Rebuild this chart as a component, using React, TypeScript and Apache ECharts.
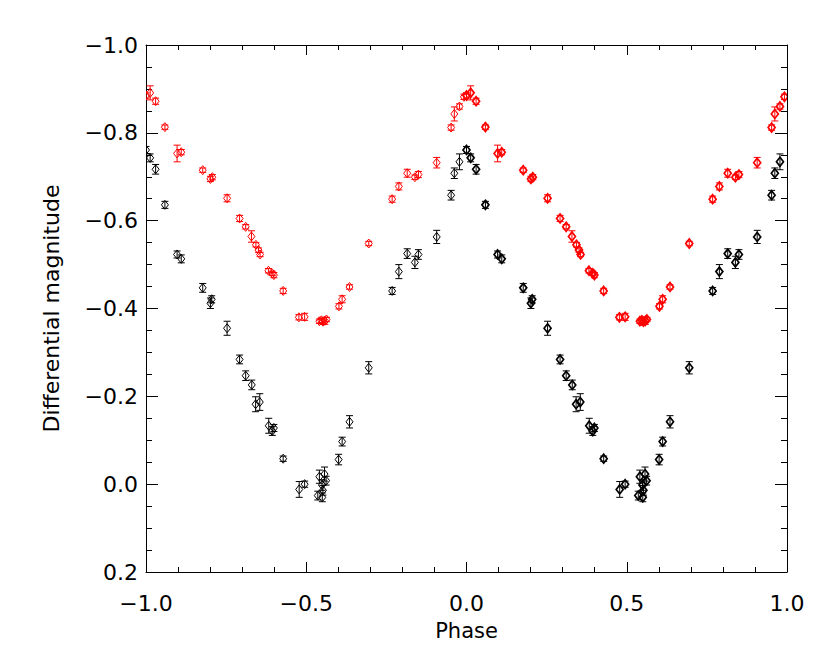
import React, { useEffect, useRef } from "react";
import * as echarts from "echarts";

// One folded cycle of the light curve (phase 0..1); it is plotted at phase and phase - 1
const redPhase = [0.000, 0.013, 0.030, 0.059, 0.097, 0.110, 0.177, 0.201, 0.207, 0.253, 0.292, 0.311, 0.329, 0.343, 0.351, 0.356, 0.382, 0.394, 0.399, 0.428, 0.477, 0.495, 0.541, 0.547, 0.552, 0.558, 0.563, 0.602, 0.612, 0.635, 0.695, 0.768, 0.789, 0.815, 0.839, 0.850, 0.907, 0.952, 0.962, 0.978, 0.992];
const redMag = [-0.885, -0.891, -0.872, -0.813, -0.753, -0.756, -0.715, -0.695, -0.699, -0.651, -0.605, -0.586, -0.564, -0.545, -0.533, -0.523, -0.486, -0.480, -0.476, -0.440, -0.380, -0.381, -0.371, -0.373, -0.370, -0.372, -0.375, -0.405, -0.421, -0.449, -0.548, -0.649, -0.678, -0.708, -0.699, -0.705, -0.732, -0.812, -0.843, -0.860, -0.882];
const redErr = [0.006, 0.016, 0.007, 0.005, 0.019, 0.006, 0.005, 0.006, 0.006, 0.008, 0.007, 0.005, 0.013, 0.005, 0.005, 0.005, 0.005, 0.005, 0.006, 0.006, 0.006, 0.008, 0.005, 0.005, 0.006, 0.008, 0.005, 0.006, 0.008, 0.005, 0.005, 0.007, 0.008, 0.009, 0.005, 0.007, 0.012, 0.006, 0.016, 0.006, 0.006];

const blackPhase = [0.000, 0.013, 0.030, 0.059, 0.097, 0.110, 0.177, 0.201, 0.205, 0.253, 0.292, 0.311, 0.330, 0.342, 0.355, 0.383, 0.394, 0.399, 0.428, 0.478, 0.495, 0.536, 0.541, 0.549, 0.552, 0.550, 0.557, 0.562, 0.601, 0.612, 0.635, 0.695, 0.768, 0.789, 0.815, 0.839, 0.850, 0.907, 0.952, 0.962, 0.978];
const blackMag = [-0.761, -0.743, -0.717, -0.636, -0.523, -0.513, -0.447, -0.412, -0.421, -0.355, -0.284, -0.247, -0.226, -0.182, -0.187, -0.133, -0.121, -0.128, -0.058, 0.012, 0.000, 0.026, -0.017, 0.002, 0.014, 0.030, -0.023, -0.008, -0.056, -0.097, -0.142, -0.265, -0.440, -0.484, -0.525, -0.505, -0.523, -0.563, -0.658, -0.708, -0.734];
const blackErr = [0.008, 0.009, 0.011, 0.008, 0.008, 0.009, 0.010, 0.012, 0.008, 0.016, 0.010, 0.011, 0.011, 0.017, 0.019, 0.017, 0.010, 0.008, 0.006, 0.018, 0.007, 0.010, 0.015, 0.012, 0.011, 0.010, 0.016, 0.010, 0.012, 0.010, 0.014, 0.014, 0.008, 0.016, 0.011, 0.014, 0.011, 0.015, 0.011, 0.012, 0.018];

const xTicks = [-1.0, -0.5, 0.0, 0.5, 1.0];
const yTicks = [-1.0, -0.8, -0.6, -0.4, -0.2, 0.0, 0.2];

const FONT = "DejaVu Sans";

function fmt(v: number): string {
  const r = Math.abs(v) < 1e-9 ? 0 : v;
  const s = r.toFixed(1);
  return s.startsWith("-") ? "\u2212" + s.slice(1) : s;
}

function buildData(phase: number[], mag: number[], err: number[], shift: number) {
  return phase.map((p, i) => [p + shift, mag[i], err[i]]);
}

function makeRender(color: string, lw: number) {
  return (params: any, api: any) => {
    const x = api.value(0);
    const y = api.value(1);
    const e = api.value(2);
    const c = api.coord([x, y]);
    const top = api.coord([x, y - e]);
    const bot = api.coord([x, y + e]);
    const cap = 3.5;
    const hw = 3.5;
    const hh = 4.5;
    const ls = { stroke: color, lineWidth: 1 };
    return {
      type: "group",
      children: [
        { type: "line", shape: { x1: c[0], y1: top[1], x2: c[0], y2: bot[1] }, style: ls },
        { type: "line", shape: { x1: c[0] - cap, y1: top[1], x2: c[0] + cap, y2: top[1] }, style: ls },
        { type: "line", shape: { x1: c[0] - cap, y1: bot[1], x2: c[0] + cap, y2: bot[1] }, style: ls },
        {
          type: "polygon",
          shape: { points: [[c[0], c[1] - hh], [c[0] + hw, c[1]], [c[0], c[1] + hh], [c[0] - hw, c[1]]] },
          style: { stroke: color, fill: "none", lineWidth: lw },
        },
      ],
    };
  };
}

export default function App() {
  const ref = useRef<HTMLDivElement>(null);
  useEffect(() => {
    if (!ref.current) return;
    const chart = echarts.init(ref.current, undefined, { renderer: "svg" });
    const axisLine = { show: true, onZero: false, lineStyle: { color: "#000", width: 1 } };
    const xCommon = {
      type: "value",
      min: xTicks[0],
      max: xTicks[xTicks.length - 1],
      interval: 0.5,
      splitLine: { show: false },
      axisLine,
      axisTick: { show: true, inside: true, length: 10, lineStyle: { color: "#000" } },
      minorTick: { show: true, splitNumber: 5, length: 5, lineStyle: { color: "#000" } },
    };
    const yCommon = {
      type: "value",
      inverse: true,
      min: yTicks[0],
      max: yTicks[yTicks.length - 1],
      interval: 0.2,
      splitLine: { show: false },
      axisLine,
      axisTick: { show: true, inside: true, length: 12, lineStyle: { color: "#000" } },
      minorTick: { show: true, splitNumber: 4, length: 6, lineStyle: { color: "#000" } },
    };
    const series: any[] = [];
    [
      { p: blackPhase, m: blackMag, e: blackErr, color: "#000000" },
      { p: redPhase, m: redMag, e: redErr, color: "#ff0000" },
    ].forEach((s) => {
      series.push({
        type: "custom",
        xAxisIndex: 0,
        yAxisIndex: 0,
        clip: true,
        renderItem: makeRender(s.color, 1),
        data: buildData(s.p, s.m, s.e, -1),
      });
      series.push({
        type: "custom",
        xAxisIndex: 0,
        yAxisIndex: 0,
        clip: true,
        renderItem: makeRender(s.color, 1.7),
        data: buildData(s.p, s.m, s.e, 0),
      });
    });
    chart.setOption({
      animation: false,
      backgroundColor: "#ffffff",
      grid: { left: 138, right: 35, top: 37, bottom: 84, containLabel: false },
      xAxis: [
        {
          ...xCommon,
          position: "bottom",
          name: "Phase",
          nameLocation: "middle",
          nameGap: 48,
          nameTextStyle: { fontFamily: FONT, fontSize: 21, color: "#000" },
          axisLabel: { show: true, margin: 20, fontFamily: FONT, fontSize: 22, color: "#000", formatter: (v: number) => fmt(v) },
        },
        { ...xCommon, position: "top", axisLabel: { show: false } },
      ],
      yAxis: [
        {
          ...yCommon,
          position: "left",
          name: "Differential magnitude",
          nameLocation: "middle",
          nameGap: 84,
          nameRotate: 90,
          nameTextStyle: { fontFamily: FONT, fontSize: 22, color: "#000" },
          axisLabel: { show: true, margin: 8, fontFamily: FONT, fontSize: 22, color: "#000", formatter: (v: number) => fmt(v) },
        },
        { ...yCommon, position: "right", axisLabel: { show: false } },
      ],
      series,
    });
    return () => chart.dispose();
  }, []);
  return <div ref={ref} style={{ width: 814, height: 648 }} />;
}
